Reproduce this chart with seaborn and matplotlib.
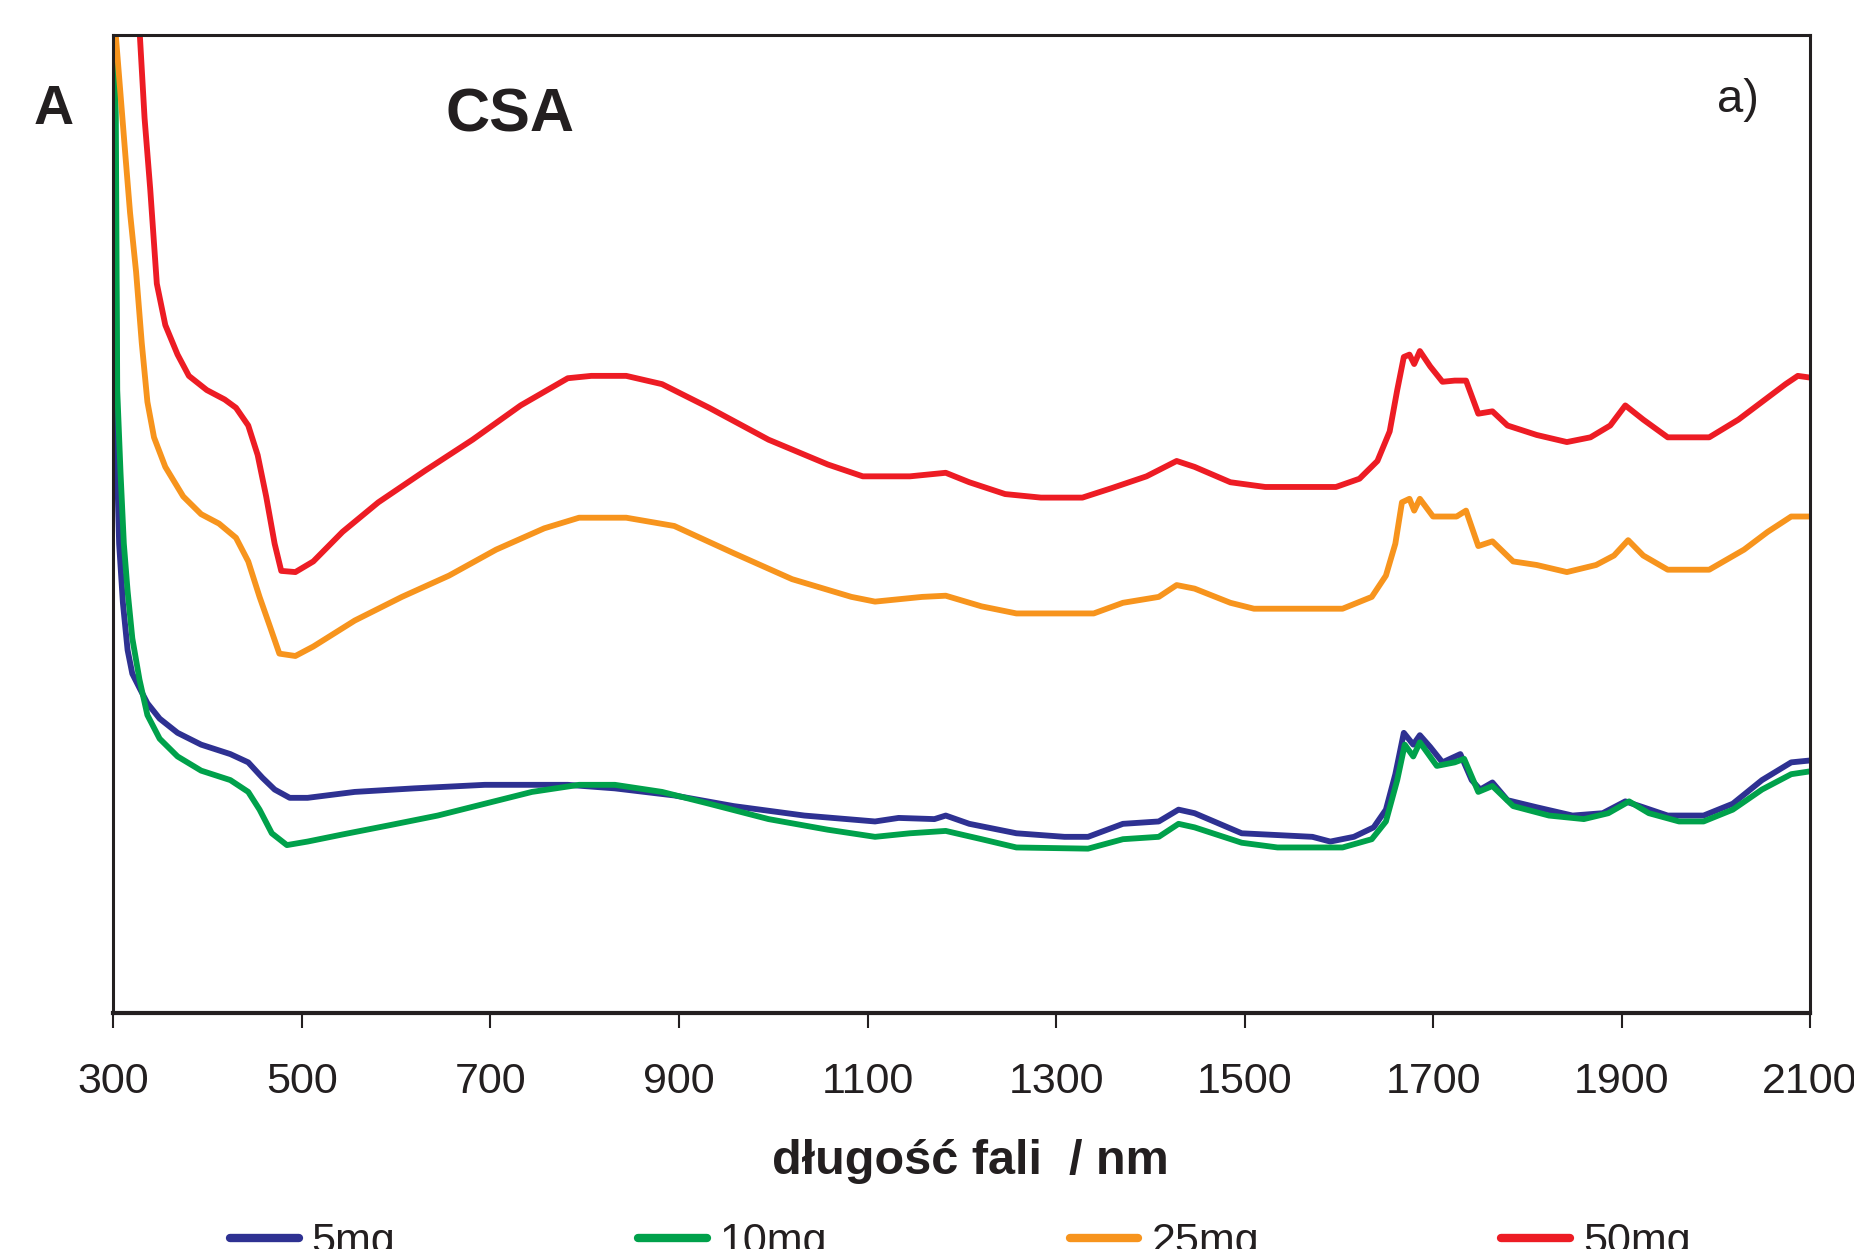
import pandas as pd
import seaborn as sns
import matplotlib.pyplot as plt

# Widma CSA (absorbancja w jednostkach umownych)
x_5mg = [300, 301, 302.5, 304, 306, 310, 315, 320, 327.6, 336, 349, 368, 393, 424, 443, 458, 471, 487, 506,
         556, 619, 694, 782, 832, 895, 958, 1033, 1108, 1133, 1171, 1183, 1208, 1258, 1309, 1334, 1371, 1409,
         1430, 1447, 1497, 1572, 1591, 1616, 1637, 1650, 1660, 1669, 1679, 1686, 1697, 1710, 1729, 1741, 1750,
         1763, 1779, 1810, 1848, 1880, 1904, 1923, 1949, 1987, 2018, 2049, 2080, 2105]
y_5mg = [0.900, 0.827, 0.657, 0.457, 0.397, 0.347, 0.307, 0.287, 0.275, 0.262, 0.249, 0.237, 0.227, 0.219, 0.212,
         0.199, 0.189, 0.182, 0.182, 0.187, 0.190, 0.193, 0.193, 0.190, 0.184, 0.175, 0.167, 0.162, 0.165, 0.164,
         0.167, 0.160, 0.152, 0.149, 0.149, 0.160, 0.162, 0.172, 0.169, 0.152, 0.149, 0.145, 0.149, 0.157, 0.172,
         0.202, 0.237, 0.227, 0.235, 0.225, 0.212, 0.219, 0.197, 0.189, 0.195, 0.180, 0.174, 0.167, 0.169, 0.179,
         0.174, 0.167, 0.167, 0.177, 0.197, 0.212, 0.214]

x_10mg = [300.5, 301, 302.5, 304, 307.5, 311, 315, 320, 327.6, 336, 349, 368, 393, 424, 443, 455, 468, 484, 506,
          543, 594, 644, 694, 744, 794, 832, 882, 932, 995, 1058, 1108, 1145, 1183, 1221, 1258, 1334, 1371, 1409,
          1430, 1447, 1497, 1535, 1604, 1635, 1650, 1662, 1670, 1679, 1686, 1704, 1723, 1733, 1748, 1763, 1785,
          1823, 1860, 1886, 1908, 1929, 1961, 1987, 2018, 2049, 2080, 2105]
y_10mg = [0.900, 0.827, 0.757, 0.527, 0.457, 0.397, 0.357, 0.317, 0.282, 0.252, 0.232, 0.217, 0.205, 0.197, 0.187,
          0.172, 0.152, 0.142, 0.145, 0.151, 0.159, 0.167, 0.177, 0.187, 0.193, 0.193, 0.187, 0.177, 0.164, 0.155,
          0.149, 0.152, 0.154, 0.147, 0.140, 0.139, 0.147, 0.149, 0.160, 0.157, 0.144, 0.140, 0.140, 0.147, 0.162,
          0.197, 0.227, 0.217, 0.229, 0.209, 0.212, 0.215, 0.187, 0.192, 0.175, 0.167, 0.164, 0.169, 0.179, 0.169,
          0.162, 0.162, 0.172, 0.189, 0.202, 0.205]

x_25mg = [300, 302.5, 307.5, 312.5, 317.6, 324, 330, 336, 343, 355, 374, 393, 412, 430, 443, 455, 466, 476, 493,
          512, 556, 606, 656, 706, 757, 794, 844, 895, 958, 1020, 1083, 1108, 1158, 1183, 1221, 1258, 1340, 1371,
          1409, 1428, 1447, 1485, 1510, 1604, 1635, 1650, 1660, 1667, 1675, 1680, 1686, 1700, 1725, 1735, 1748,
          1763, 1785, 1810, 1842, 1873, 1892, 1907, 1923, 1949, 1993, 2030, 2055, 2080, 2105]
y_25mg = [0.900, 0.827, 0.777, 0.727, 0.677, 0.627, 0.567, 0.517, 0.487, 0.462, 0.437, 0.422, 0.414, 0.402, 0.382,
          0.352, 0.327, 0.304, 0.302, 0.310, 0.332, 0.352, 0.370, 0.392, 0.410, 0.419, 0.419, 0.412, 0.389, 0.367,
          0.352, 0.348, 0.352, 0.353, 0.344, 0.338, 0.338, 0.347, 0.352, 0.362, 0.359, 0.347, 0.342, 0.342, 0.352,
          0.370, 0.397, 0.432, 0.435, 0.425, 0.435, 0.420, 0.420, 0.425, 0.395, 0.399, 0.382, 0.379, 0.373, 0.379,
          0.387, 0.400, 0.387, 0.375, 0.375, 0.392, 0.407, 0.420, 0.420]

x_50mg = [326, 328, 333, 339, 346, 355, 368, 380, 399, 418, 430, 443, 453, 462, 471, 478, 493, 512, 543, 581, 631,
          681, 732, 782, 807, 844, 882, 932, 995, 1058, 1095, 1145, 1183, 1208, 1246, 1284, 1328, 1359, 1396, 1428,
          1447, 1485, 1522, 1597, 1622, 1641, 1654, 1662, 1669, 1675, 1680, 1686, 1697, 1710, 1723, 1735, 1748,
          1763, 1779, 1810, 1842, 1867, 1888, 1904, 1923, 1949, 1993, 2024, 2049, 2074, 2087, 2105]
y_50mg = [0.900, 0.827, 0.757, 0.697, 0.617, 0.582, 0.557, 0.539, 0.527, 0.519, 0.512, 0.497, 0.472, 0.437, 0.397,
          0.374, 0.373, 0.382, 0.407, 0.432, 0.459, 0.485, 0.514, 0.537, 0.539, 0.539, 0.532, 0.512, 0.485, 0.464,
          0.454, 0.454, 0.457, 0.449, 0.439, 0.436, 0.436, 0.444, 0.454, 0.467, 0.462, 0.449, 0.445, 0.445, 0.452,
          0.467, 0.492, 0.527, 0.555, 0.557, 0.549, 0.560, 0.547, 0.534, 0.535, 0.535, 0.507, 0.509, 0.497, 0.489,
          0.483, 0.487, 0.497, 0.514, 0.502, 0.487, 0.487, 0.502, 0.517, 0.532, 0.539, 0.537]

serie = ['5mg', '10mg', '25mg', '50mg']
kolory = ['#2E3192', '#00A14B', '#F7941D', '#ED1C24']
x_ticks = [300, 500, 700, 900, 1100, 1300, 1500, 1700, 1900, 2100]

# tabela w formacie "long" dla seaborn
dane = {'5mg': (x_5mg, y_5mg), '10mg': (x_10mg, y_10mg), '25mg': (x_25mg, y_25mg), '50mg': (x_50mg, y_50mg)}
df = pd.concat([pd.DataFrame({'lambda': xs, 'A': ys, 'probka': nazwa}) for nazwa, (xs, ys) in dane.items()],
               ignore_index=True)

sns.set_theme(style="white")
plt.rcParams['font.family'] = ['Liberation Sans', 'DejaVu Sans']

fig = plt.figure(figsize=(18.54, 12.49), dpi=100)
ax = fig.add_axes([0.0612, 0.189, 0.9151, 0.7826])

sns.lineplot(data=df, x='lambda', y='A', hue='probka', hue_order=serie, palette=dict(zip(serie, kolory)),
             sort=False, estimator=None, linewidth=4.2, ax=ax)

ax.set_xlim(300, 2100)
ax.set_ylim(0, 0.827)
ax.set_xticks(x_ticks)
ax.set_yticks([])
ax.tick_params(axis='x', direction='out', length=11, width=1.5, color='#231F20', pad=24,
               labelsize=31, labelcolor='#231F20', bottom=True)
for s in ax.spines.values():
    s.set_color('#231F20')
    s.set_linewidth(2.2)
ax.spines['bottom'].set_linewidth(3)

ax.set_ylabel('')
ax.set_xlabel('długość fali  / nm', fontsize=35, fontweight='bold', color='#231F20')
ax.xaxis.set_label_coords(0.505, -0.152)
ax.xaxis.label.set_va('center')

fig.text(54 / 1854, 1 - 110 / 1249, 'A', fontsize=40, fontweight='bold', color='#231F20', ha='center', va='center')
ax.text(510 / 1854, 1 - 116 / 1249, 'CSA', transform=fig.transFigure, fontsize=44, fontweight='bold',
        color='#231F20', ha='center', va='center')
ax.text(1738 / 1854, 1 - 100 / 1249, 'a)', transform=fig.transFigure, fontsize=34, color='#231F20',
        ha='center', va='center')

sns.move_legend(ax, 'center', bbox_to_anchor=(0.518, 0.0056), bbox_transform=fig.transFigure, ncol=4,
                frameon=False, title=None, fontsize=31, handlelength=1.6, handletextpad=0.3, columnspacing=5.63)
for linia in ax.get_legend().get_lines():
    linia.set_linewidth(6)
for t in ax.get_legend().get_texts():
    t.set_color('#231F20')

fig.savefig('out.png', dpi=100)
